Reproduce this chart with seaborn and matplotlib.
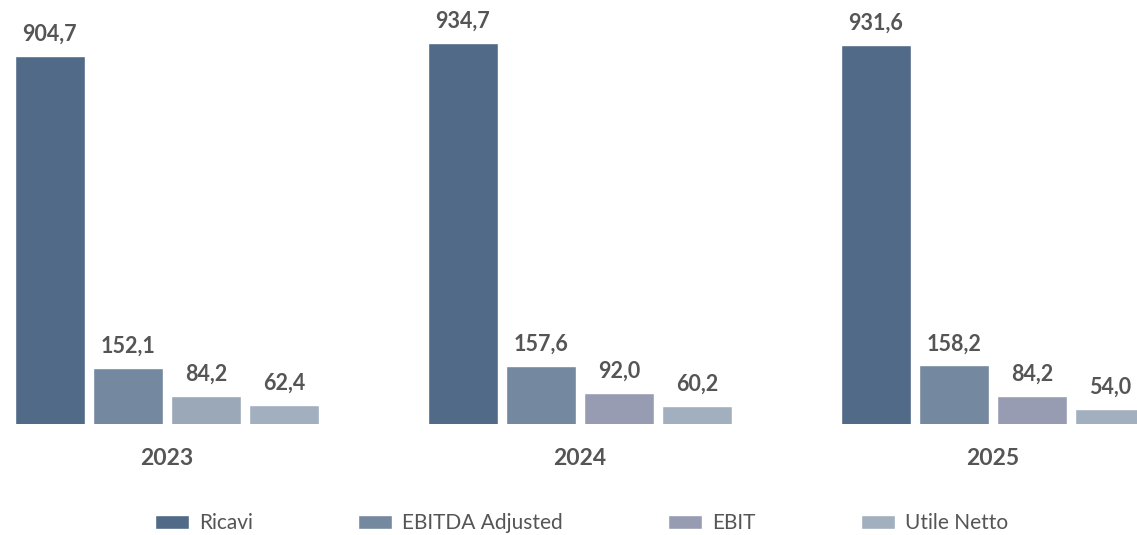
import pandas as pd
import matplotlib.pyplot as plt
import seaborn as sns

# data
years = ['2023', '2024', '2025']
series = ['Ricavi', 'EBITDA Adjusted', 'EBIT', 'Utile Netto']
ricavi = [904.7, 934.7, 931.6]
ebitda_adj = [152.1, 157.6, 158.2]
ebit = [84.2, 92.0, 84.2]
utile_netto = [62.4, 60.2, 54.0]

colors = ['#506a87', '#74889f', '#989cb2', '#a2afbf']
text_color = '#555555'

rows = []
for name, vals in zip(series, [ricavi, ebitda_adj, ebit, utile_netto]):
    for y, v in zip(years, vals):
        rows.append({'Anno': y, 'Voce': name, 'Valore': v})
df = pd.DataFrame(rows)

sns.set_style('white')
plt.rcParams['font.family'] = ['Lato', 'DejaVu Sans']

fig = plt.figure(figsize=(11.37, 5.35), dpi=100)
ax = fig.add_axes([0, 1 - 424 / 535, 1, 424 / 535])

sns.barplot(data=df, x='Anno', y='Valore', hue='Voce', order=years,
            hue_order=series, palette=colors, width=0.756, gap=0.1,
            saturation=1, ax=ax, legend=True)

# the 2023 EBIT bar is drawn lighter in the original
ax.containers[2].patches[0].set_facecolor('#9aa8b8')

for cont in ax.containers:
    ax.bar_label(cont, labels=[f'{b.get_height():.1f}'.replace('.', ',') for b in cont],
                 padding=8, fontsize=15.5, fontweight='bold', color=text_color)

ax.set_xlim(-0.404, 2.349)
ax.set_ylim(17, 1039)
ax.set_xlabel('')
ax.set_ylabel('')
ax.set_yticks([])
ax.tick_params(axis='x', length=0, pad=17, labelsize=16.5, labelcolor=text_color)
for t in ax.get_xticklabels():
    t.set_fontweight('bold')
sns.despine(ax=ax, left=True, bottom=True)

handles, labels = ax.get_legend_handles_labels()
ax.get_legend().remove()
leg = fig.legend(handles, labels, loc='center', bbox_to_anchor=(0.5115, 1 - 523 / 535),
                 ncol=4, frameon=False, fontsize=15, handlelength=1.63,
                 handleheight=0.67, handletextpad=0.48, columnspacing=5.05)
for t in leg.get_texts():
    t.set_color(text_color)

fig.savefig('out.png', dpi=100)
